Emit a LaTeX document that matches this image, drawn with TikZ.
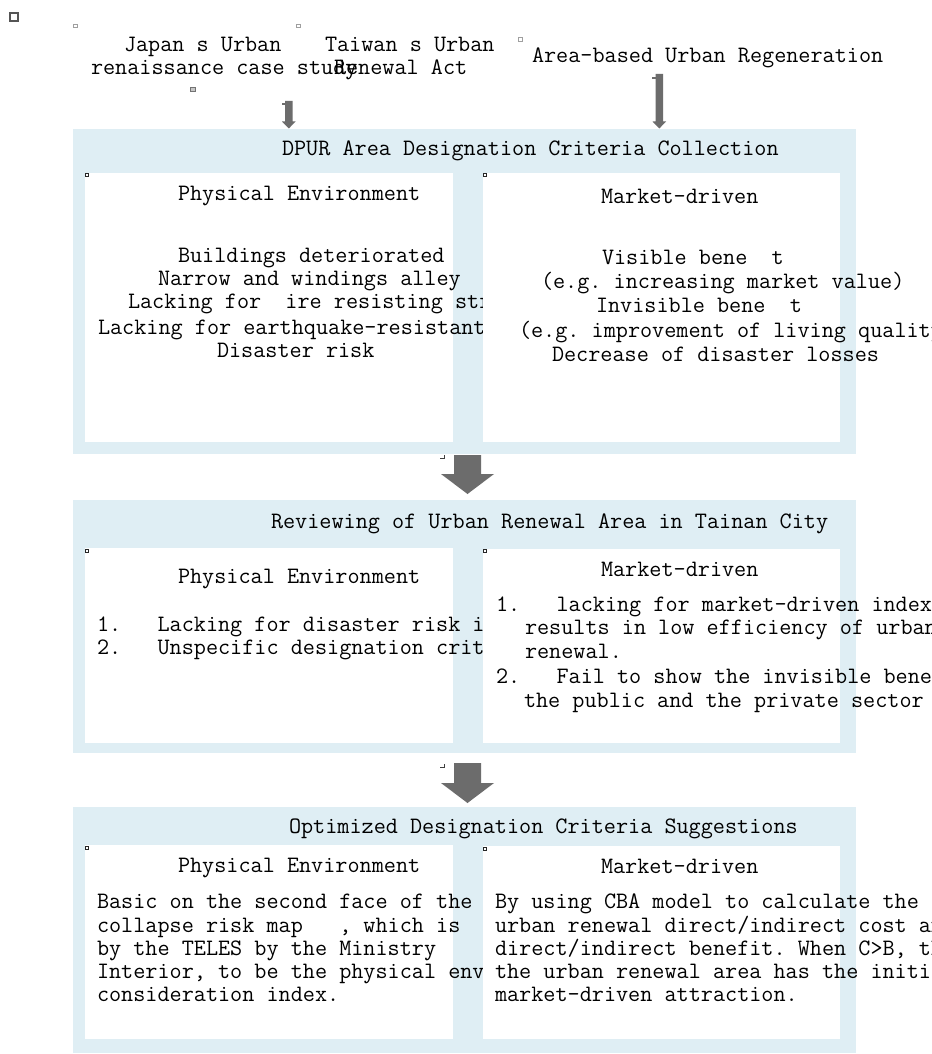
\documentclass[tikz,border=0pt]{standalone}
\usetikzlibrary{calc}
\definecolor{panelblue}{RGB}{223,238,244}
\definecolor{arrowgray}{RGB}{108,108,108}
\definecolor{markgray}{RGB}{85,85,85}
\newcommand\tline[4]{\node[txt] (#1) at (#2,#3) {#4};}
% block arrow: #1 start coord, #2 tip coord, #3 half shaft, #4 half head, #5 head length
\newcommand\blockarrow[5]{%
  \fill[arrowgray] ($(#1)+(-#3,0)$) -- ($(#2)+(-#3,-#5)$) -- ($(#2)+(-#4,-#5)$) -- (#2)
    -- ($(#2)+(#4,-#5)$) -- ($(#2)+(#3,-#5)$) -- ($(#1)+(#3,0)$) -- cycle;}
\begin{document}
\begin{tikzpicture}[x=1pt,y=-1pt,
  txt/.style={anchor=base west, inner sep=0pt, outer sep=0pt,
    font=\fontsize{23.52}{27}\selectfont\ttfamily\frenchspacing},
  panel/.style={fill=panelblue, draw=none, anchor=north west, inner sep=0pt, outer sep=0pt},
  wbox/.style={fill=white, draw=none, anchor=north west, inner sep=0pt, outer sep=0pt},
  cornermark/.style={draw=black!85, line width=0.9pt, fill=white},
  smallmark/.style={draw=gray!75, line width=0.7pt, fill=white}]
\useasboundingbox (0,0) rectangle (931,1054);
\begin{scope}
\clip (0,0) rectangle (931,1054);
\fill[white] (0,0) rectangle (931,1054);

% panels
\node[panel, minimum width=783pt, minimum height=325pt] (p1) at (73,129) {};
\node[panel, minimum width=783pt, minimum height=253pt] (p2) at (73,500) {};
\node[panel, minimum width=783pt, minimum height=246pt] (p3) at (73,807) {};

% left white boxes
\node[wbox, minimum width=368pt, minimum height=269pt] (l1) at (85,173) {};
\node[wbox, minimum width=368pt, minimum height=195pt] (l2) at (85,548) {};
\node[wbox, minimum width=368pt, minimum height=194pt] (l3) at (85,845) {};

% left texts
\tline{l1h}{178}{200}{Physical Environment}
\tline{l1a}{178}{262}{Buildings deteriorated}
\tline{l1b}{158}{285}{Narrow and windings alley}
\tline{l1c}{128}{308}{Lacking for\ \ ire resisting structure}
\tline{l1d}{98}{334}{Lacking for earthquake-resistant structure}
\tline{l1e}{217}{357}{Disaster risk}

\tline{l2h}{178}{583}{Physical Environment}
\tline{l2a}{97}{631}{1.\ \ \ Lacking for disaster risk index}
\tline{l2b}{97}{654}{2.\ \ \ Unspecific designation criteria}

\tline{l3h}{178}{872}{Physical Environment}
\tline{l3a}{97}{908}{Basic on the second face of the}
\tline{l3b}{97}{932}{collapse risk map\ \ \ , which is}
\tline{l3c}{97}{955}{by the TELES by the Ministry}
\tline{l3d}{97}{978}{Interior, to be the physical environment}
\tline{l3e}{97}{1001}{consideration index.}

% right white boxes
\node[wbox, minimum width=357pt, minimum height=269pt] (r1) at (483,173) {};
\node[wbox, minimum width=357pt, minimum height=194pt] (r2) at (483,549) {};
\node[wbox, minimum width=357pt, minimum height=193pt] (r3) at (483,846) {};

% right texts
\tline{r1h}{601}{203}{Market-driven}
\tline{r1a}{602}{264}{Visible bene\ \ t}
\tline{r1b}{541}{288}{(e.g. increasing market value)}
\tline{r1c}{596}{312}{Invisible bene\ \ t}
\tline{r1d}{519}{337}{(e.g. improvement of living quality)}
\tline{r1e}{552}{361}{Decrease of disaster losses}

\tline{r2h}{601}{576}{Market-driven}
\tline{r2a}{496}{611}{1.\ \ \ lacking for market-driven index}
\tline{r2b}{525}{634}{results in low efficiency of urban}
\tline{r2c}{525}{658}{renewal.}
\tline{r2d}{496}{683}{2.\ \ \ Fail to show the invisible benefits}
\tline{r2e}{524}{707}{the public and the private sector}

\tline{r3h}{601}{873}{Market-driven}
\tline{r3a}{495}{908}{By using CBA model to calculate the}
\tline{r3b}{495}{932}{urban renewal direct/indirect cost and}
\tline{r3c}{495}{955}{direct/indirect benefit. When C>B, the}
\tline{r3d}{495}{978}{the urban renewal area has the initial}
\tline{r3e}{495}{1001}{market-driven attraction.}

% panel titles
\tline{h1}{282}{155}{DPUR Area Designation Criteria Collection}
\tline{h2}{271}{528}{Reviewing of Urban Renewal Area in Tainan City}
\tline{h3}{289}{833}{Optimized Designation Criteria Suggestions}

% top sources
\tline{ja}{124}{52}{Japan s Urban}
\tline{jb}{91}{75}{renaissance case study}
\tline{ta}{325}{52}{Taiwan s Urban}
\tline{tb}{334}{75}{Renewal Act}
\tline{ar}{532}{63}{Area-based Urban Regeneration}

% arrows
\coordinate (a1s) at (288.8,101);
\coordinate (a1e) at (288.8,128.5);
\coordinate (a2s) at (659.3,74);
\coordinate (a2e) at (659.3,128.5);
\coordinate (b1s) at (467.5,455);
\coordinate (b1e) at (467.5,494);
\coordinate (b2s) at (467.5,763);
\coordinate (b2e) at (467.5,803);
\blockarrow{a1s}{a1e}{3.8}{6.8}{7}
\blockarrow{a2s}{a2e}{3.8}{6.8}{7}
\blockarrow{b1s}{b1e}{13.5}{26.5}{20}
\blockarrow{b2s}{b2e}{13.5}{26.5}{20}
\fill[arrowgray] (282,103) rectangle (285.5,104.6);
\fill[arrowgray] (651.7,77) rectangle (655.5,78.6);

% small marks
\draw[markgray, line width=2.2pt] (10.2,13.2) rectangle (18.2,21);
\draw[smallmark] (73.5,24) rectangle (77,27.5);
\draw[smallmark] (296.5,24) rectangle (300,27.5);
\draw[smallmark] (518.5,37.5) rectangle (522,41);
\draw[draw=gray!90!black, line width=1.2pt, fill=gray!45] (190.6,87.6) rectangle (195.4,91.4);
\draw[cornermark] (85.5,173.5) rectangle (88.5,176.5);
\draw[cornermark] (483.5,173.5) rectangle (486.5,176.5);
\draw[cornermark] (85.5,549) rectangle (88.5,552);
\draw[cornermark] (483.5,549.5) rectangle (486.5,552.5);
\draw[cornermark] (85.5,846.5) rectangle (88.5,849.5);
\draw[cornermark] (483.5,847) rectangle (486.5,850);
\draw[black!75, line width=1pt] (440,458) -- (444.5,458) -- (444.5,454.5);
\draw[black!75, line width=1pt] (440,767) -- (444.5,767) -- (444.5,763.5);
\end{scope}
\end{tikzpicture}
\end{document}
